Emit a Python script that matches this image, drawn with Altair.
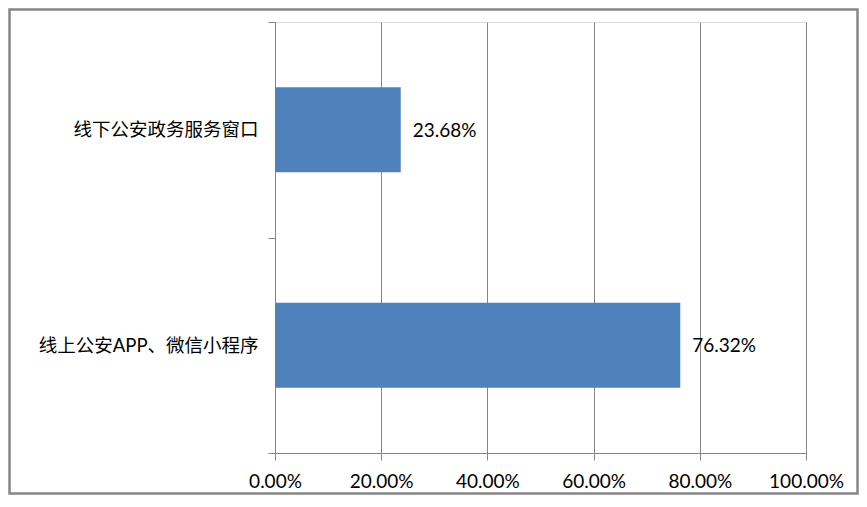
import altair as alt
import pandas as pd

categories = ["线下公安政务服务窗口", "线上公安APP、微信小程序"]
values = [0.2368, 0.7632]
x_ticks = [0, 0.2, 0.4, 0.6, 0.8, 1.0]

df = pd.DataFrame({"cat": categories, "val": values})

FONT = "Lato, 'Noto Sans CJK SC', sans-serif"
GRID = "#868686"

y_enc = alt.Y("cat:N", sort=categories, title=None,
              scale=alt.Scale(paddingInner=0, paddingOuter=0),
              axis=alt.Axis(tickBand="extent", tickSize=7, tickColor=GRID,
                            domainColor=GRID, labelPadding=10, labelFontSize=18.5,
                            labelFont=FONT, labelColor="#000000", grid=False,
                            labelLimit=400))
x_enc = alt.X("val:Q", title=None,
              scale=alt.Scale(domain=[0, 1], nice=False),
              axis=alt.Axis(values=x_ticks, format=".2%", grid=True, gridColor=GRID,
                            tickSize=7, tickColor=GRID, domainColor=GRID,
                            labelFlush=False, labelOverlap=False,
                            labelPadding=12, labelFontSize=19, labelFont=FONT,
                            labelColor="#000000"))

bars = alt.Chart(df).mark_bar(color="#4F81BD", size=85).encode(x=x_enc, y=y_enc)

labels = alt.Chart(df).mark_text(align="left", baseline="middle", dx=12, dy=1,
                                 fontSize=19, font=FONT, color="#000000").encode(
    x=alt.X("val:Q"), y=alt.Y("cat:N", sort=categories),
    text=alt.Text("val:Q", format=".2%"))

# outer frame drawn just inside the svg edges
border = alt.Chart(pd.DataFrame({"b": [0]})).mark_rect(
    fill=None, stroke=GRID, strokeWidth=2.5).encode(
    x=alt.value(-265.5), x2=alt.value(582.5),
    y=alt.value(-12.5), y2=alt.value(471.5))

chart = alt.layer(bars, labels, border).properties(
    width=531, height=431,
    autosize=alt.AutoSizeParams(type="none"),
    padding={"left": 267, "top": 14, "right": 53, "bottom": 42},
).configure_view(stroke=None).configure(background="white")

chart.save("out.html", embed_options={"renderer": "svg", "actions": False})
